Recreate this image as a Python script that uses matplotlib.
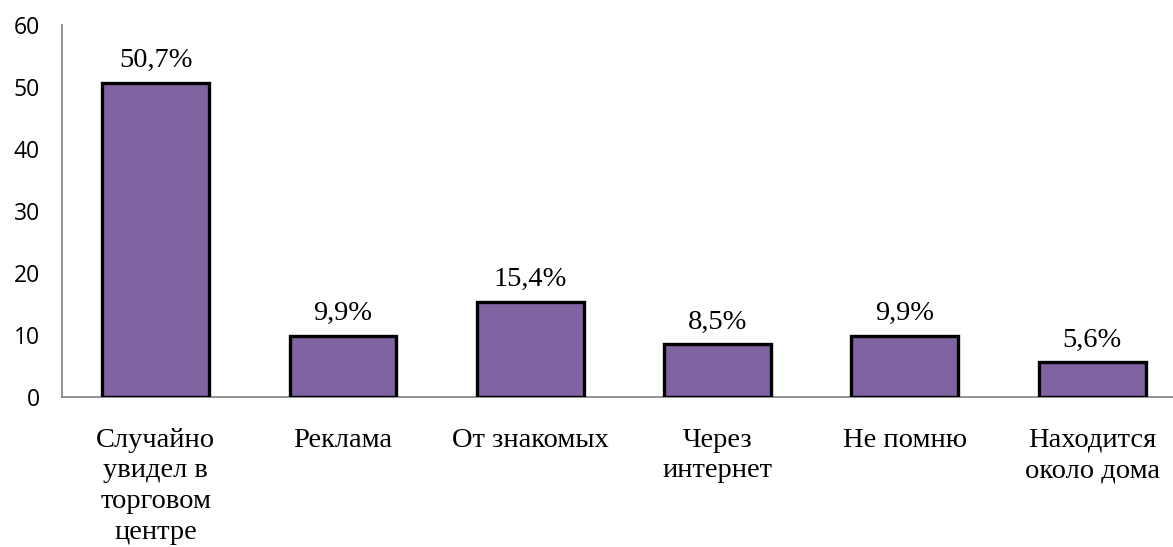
import numpy as np
import matplotlib.pyplot as plt


CATEGORIES = [
    "Случайно\nувидел в\nторговом\nцентре",
    "Реклама",
    "От знакомых",
    "Через\nинтернет",
    "Не помню",
    "Находится\nоколо дома",
]
VALUES = [50.7, 9.9, 15.4, 8.5, 9.9, 5.6]
Y_TICKS = [0, 10, 20, 30, 40, 50, 60]

BAR_COLOUR = "#8064A2"
SPINE_COLOUR = "#898989"
SERIF = ["Liberation Serif", "DejaVu Serif"]
SANS = ["Open Sans", "DejaVu Sans"]


def main():
    fig = plt.figure(figsize=(11.73, 5.47), dpi=100)
    # axis runs past the right edge of the picture, as in the original
    ax = fig.add_axes([0.0529, 0.2742, 0.958, 0.6798])

    x = np.arange(len(VALUES))
    bars = ax.bar(x, VALUES, width=0.57, color=BAR_COLOUR,
                  edgecolor="black", linewidth=2.4, zorder=3)

    for bar, value in zip(bars, VALUES):
        label = f"{value:.1f}%".replace(".", ",")
        ax.annotate(label, (bar.get_x() + bar.get_width() / 2, value),
                    xytext=(0, 7), textcoords="offset points",
                    ha="center", va="bottom", fontsize=20.5, family=SERIF)

    ax.set_xlim(-0.5, len(VALUES) - 0.5)
    ax.set_ylim(0, 60)
    ax.set_yticks(Y_TICKS)
    ax.set_yticklabels([str(t) for t in Y_TICKS], family=SANS)
    ax.set_xticks(x)
    ax.set_xticklabels(CATEGORIES, fontsize=20.5, family=SERIF,
                       linespacing=1.3, va="top")
    ax.tick_params(axis="y", length=0, pad=16, labelsize=16.5)
    ax.tick_params(axis="x", length=0, pad=22)

    for side in ("top", "right"):
        ax.spines[side].set_visible(False)
    for side in ("left", "bottom"):
        ax.spines[side].set_color(SPINE_COLOUR)
        ax.spines[side].set_linewidth(1.3)

    fig.savefig("out.png", dpi=100)


if __name__ == "__main__":
    main()
